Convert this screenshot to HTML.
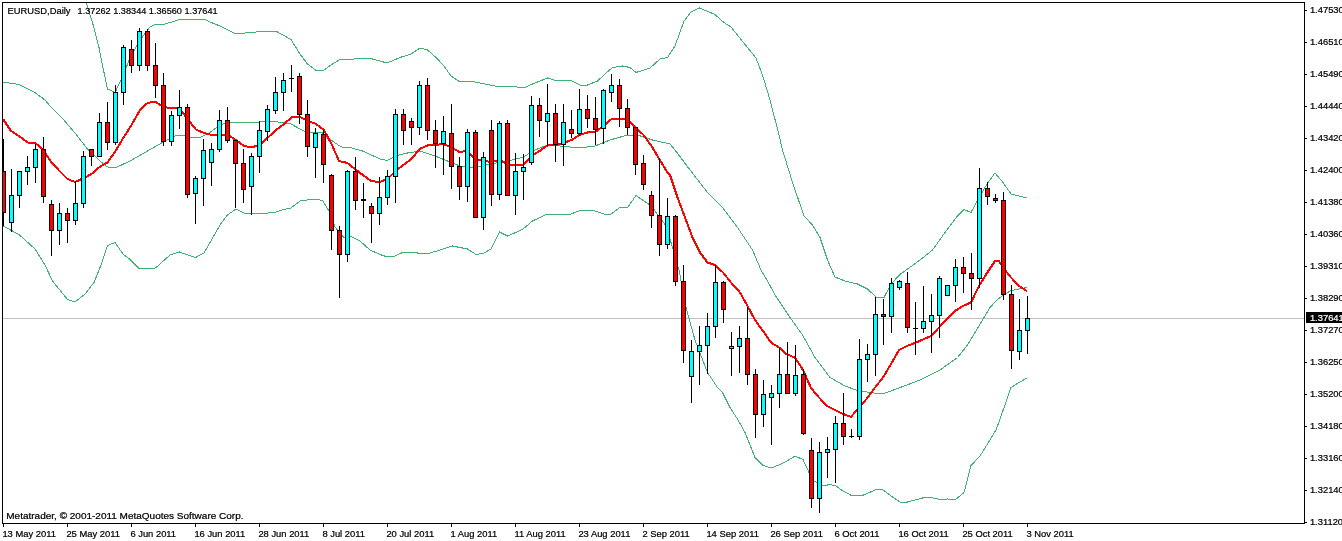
<!DOCTYPE html><html><head><meta charset="utf-8"><title>EURUSD,Daily</title>
<style>html,body{margin:0;padding:0;background:#fff;overflow:hidden}svg{display:block}text{font-family:"Liberation Sans",sans-serif;font-size:9.4px;fill:#000;stroke:#000;stroke-width:.22px}</style>
</head><body>
<svg width="1342" height="541" viewBox="0 0 1342 541">
<rect x="0" y="0" width="1342" height="541" fill="#fff"/>
<defs><clipPath id="c"><rect x="3" y="3" width="1301" height="520"/></clipPath></defs>
<g shape-rendering="crispEdges">
<rect x="3" y="318" width="1301" height="1" fill="#c0c0c0"/>
</g>
<g clip-path="url(#c)" shape-rendering="crispEdges">
<polyline points="84,-6 86,2 92.5,22.5 99,47.5 104,72.5 107.5,89 115,92.5 123.5,75 130,57.5 140,40 150,27 156,24 165,24 180,19.5 205,19.5 212.5,23 220,26 236,34 250,32.5 270,31 277.5,32 291,39.5 300,54 307.5,64 316,70.5 324,70 331,65 340,59.5 347.5,60 360,58 372.5,59 380,61 387,63 400,57.5 411,54 420,48 427.5,50 436,57.5 444,66 451,76 460,82 470,81 485,84 500,87 509,86 524,88 532.5,84 547.5,78 557.5,81 570,80 580,85 587.5,85 597.5,81 605,74 612.5,67.5 622.5,66 630,67.5 636,72.5 650,68 660,59 667.5,57.5 675,46 684,21 691,12 699.5,8 715,14.5 724,22.5 731,27 747.5,47.5 756,58 762.5,75 770,100 779,135 782.5,150 792.5,182.5 804,216 812.5,225 820,237.5 827.5,260 835,277 845,281 857.5,284 867.5,289 876,297 884,297.5 891,284 900,274.5 920,260 932.5,250 945,232.5 957.5,216 964,209.5 971,212.5 979,197.5 987,184 995,173 1003,182.5 1011,194 1019,196 1027,198" fill="none" stroke="#3cb371" stroke-width="1" />
<polyline points="3,82 19,84.5 35,92.5 45,100 50,106 62.5,118.5 75,133 87.5,149 100,161 107.5,167 115,168 130,161 147.5,151 162.5,142.5 175,136 184,135 191,138 200,137.5 210,132.5 220,125 230,122 250,123 260,122 275,121.5 291,124 300,129 307.5,132.5 322.5,133 335,143 342.5,147.5 350,147.5 362.5,151 380,159 387.5,160.5 395,156 407.5,153 420,151 435,156 447.5,161 460,166 475,167.5 490,164 507.5,161 522.5,157.5 535,150 547.5,145 560,146 580,148 595,146 610,140 627.5,135 637.5,135 652.5,140 670,144 675,150 690,170 707.5,192.5 722.5,207.5 737.5,227.5 752.5,250 761,270 770,285.5 775,295 790,317.5 802.5,335 815,357.5 830,377.5 845,386 857.5,390.5 870,392.5 882.5,394 895,389.5 920,380 940,370 957.5,357.5 967.5,345 975,332.5 982.5,320 990,307.5 997.5,299.5 1005,294 1011,290.5 1019,289 1027,287.5" fill="none" stroke="#3cb371" stroke-width="1" />
<polyline points="3,226 19,234.5 35,249 45,265 52.5,281 67.5,299.5 75,302 85,294 94,282.5 101,265 107.5,245.5 115,242.5 123,254 130,259.5 139.5,269 155.5,268 170,255 179.5,252 195.5,257.5 204,253 220,225 227.5,215 236,209 244,213 260,214 276,212 284,209.5 291,208 300,201 315,199 322.5,200.5 329,211 335,227 338,230.5 344,237.5 350,236 360,241 370,250 380,254.5 387.5,257 395,256 402.5,252.5 417.5,253 430,253 440,250 452.5,246 460,247.5 467.5,249 476,254.5 484,253 491,249 499.5,232 507.5,236 522.5,229.5 532.5,221 547.5,214 571,214 580,210.5 595,211 604,214 611,214 620,207.5 627.5,207.5 636,195.5 644,201 651.5,206 659.5,217.5 667.5,227.5 670,239 679,270 686,307.5 695,340 707.5,372.5 717.5,387.5 722.5,392.5 730,407.5 737.5,419 745,432.5 755,457.5 763,465.5 771,468 779,465 787,461 795,456 803,459.5 809,472.5 814,481 822.5,486 830,484.5 836,486 843,491 852.5,496 862.5,495.5 875,490 882.5,489.5 891,496 900,502 907.5,502 922.5,498 931,497.5 940,499.5 947.5,499 955,500 964,492.5 971,465.5 980,456 987.5,444 996,430 1005,405 1011,387.5 1019,382.5 1027,378" fill="none" stroke="#3cb371" stroke-width="1" />
</g>
<g clip-path="url(#c)" shape-rendering="crispEdges">
<polyline points="3,119 11,131 19,136 27.5,142.5 35.5,143 44,151 51.5,162.5 59.5,171 67.5,179 75,182 84,178 91.5,174 99.5,167 107.5,162.5 115.5,151 123.5,137.5 131.5,125 140,110 147.5,103 155,101.5 163,107 171,108 179,108 187.5,119 196,129.5 204,133 212,135 220,135 228,135 236,140 244,146 252,147.5 260,144.5 268,137.5 276,130 284,124 292,117 300,117 308,121 316,124 324,130 332,145 339,161 347.5,163 355.5,169.5 363.5,175.5 371,181 379.5,182 387.5,179 395.5,171 403.5,165 411.5,159 419.5,149 427.5,145.5 435.5,145 443.5,144 451.5,147.5 459.5,152 467.5,151 475.5,160 483.5,160 491.5,162.5 499.5,159.5 507.5,164.5 515.5,165 523.5,165 531.5,156 539.5,151 547.5,145.5 555.5,145 563.5,143 571.5,140 579.5,135 587.5,132.5 595.5,132 603.5,126 611.5,119 619.5,119 627.5,119 635.5,127.5 643.5,135 651.5,146 659.5,159.5 667.5,172.5 670,175 677.5,197.5 685,217.5 692.5,237.5 700,252.5 707.5,262.5 715,265 723,272.5 731,282.5 740,292.5 747,305 755,320 763,331 771,342.5 779,347.5 787,354.5 795,357.5 803,370 811,388 819,397.5 827,406 835,410 843,414 851,417 859,407 867,398.5 875,387.5 883,377.5 891,364 899,350 907,346 915,343 923,339.5 931,336 939,327.5 947,319 955,311 963,306 971,302.5 979,286 987,273 995,261 999,261 1003,267.5 1011,277.5 1019,286 1027,291" fill="none" stroke="#ff0000" stroke-width="2" stroke-linejoin="round"/>
</g>
<g clip-path="url(#c)" shape-rendering="crispEdges">
<rect x="3" y="139" width="1" height="87" fill="#000"/>
<rect x="1" y="171" width="5" height="42" fill="#000"/>
<rect x="2" y="172" width="3" height="40" fill="#ff0000"/>
<rect x="11" y="169" width="1" height="63" fill="#000"/>
<rect x="9" y="195" width="5" height="28" fill="#000"/>
<rect x="10" y="196" width="3" height="26" fill="#00ffff"/>
<rect x="19" y="171" width="1" height="37" fill="#000"/>
<rect x="17" y="171" width="5" height="25" fill="#000"/>
<rect x="18" y="172" width="3" height="23" fill="#00ffff"/>
<rect x="27" y="156" width="1" height="29" fill="#000"/>
<rect x="25" y="167" width="5" height="5" fill="#000"/>
<rect x="26" y="168" width="3" height="3" fill="#00ffff"/>
<rect x="35" y="144" width="1" height="39" fill="#000"/>
<rect x="33" y="149" width="5" height="19" fill="#000"/>
<rect x="34" y="150" width="3" height="17" fill="#00ffff"/>
<rect x="43" y="137" width="1" height="66" fill="#000"/>
<rect x="41" y="149" width="5" height="48" fill="#000"/>
<rect x="42" y="150" width="3" height="46" fill="#ff0000"/>
<rect x="51" y="200" width="1" height="56" fill="#000"/>
<rect x="49" y="204" width="5" height="27" fill="#000"/>
<rect x="50" y="205" width="3" height="25" fill="#ff0000"/>
<rect x="59" y="203" width="1" height="42" fill="#000"/>
<rect x="57" y="213" width="5" height="18" fill="#000"/>
<rect x="58" y="214" width="3" height="16" fill="#00ffff"/>
<rect x="67" y="208" width="1" height="35" fill="#000"/>
<rect x="65" y="213" width="5" height="8" fill="#000"/>
<rect x="66" y="214" width="3" height="6" fill="#ff0000"/>
<rect x="75" y="181" width="1" height="44" fill="#000"/>
<rect x="73" y="203" width="5" height="18" fill="#000"/>
<rect x="74" y="204" width="3" height="16" fill="#00ffff"/>
<rect x="83" y="151" width="1" height="57" fill="#000"/>
<rect x="81" y="156" width="5" height="48" fill="#000"/>
<rect x="82" y="157" width="3" height="46" fill="#00ffff"/>
<rect x="91" y="149" width="1" height="17" fill="#000"/>
<rect x="89" y="149" width="5" height="8" fill="#000"/>
<rect x="90" y="150" width="3" height="6" fill="#ff0000"/>
<rect x="99" y="113" width="1" height="44" fill="#000"/>
<rect x="97" y="122" width="5" height="35" fill="#000"/>
<rect x="98" y="123" width="3" height="33" fill="#00ffff"/>
<rect x="107" y="102" width="1" height="48" fill="#000"/>
<rect x="105" y="122" width="5" height="21" fill="#000"/>
<rect x="106" y="123" width="3" height="19" fill="#ff0000"/>
<rect x="115" y="85" width="1" height="60" fill="#000"/>
<rect x="113" y="92" width="5" height="51" fill="#000"/>
<rect x="114" y="93" width="3" height="49" fill="#00ffff"/>
<rect x="123" y="45" width="1" height="60" fill="#000"/>
<rect x="121" y="47" width="5" height="46" fill="#000"/>
<rect x="122" y="48" width="3" height="44" fill="#00ffff"/>
<rect x="131" y="40" width="1" height="33" fill="#000"/>
<rect x="129" y="49" width="5" height="17" fill="#000"/>
<rect x="130" y="50" width="3" height="15" fill="#ff0000"/>
<rect x="139" y="28" width="1" height="43" fill="#000"/>
<rect x="137" y="31" width="5" height="35" fill="#000"/>
<rect x="138" y="32" width="3" height="33" fill="#00ffff"/>
<rect x="147" y="29" width="1" height="42" fill="#000"/>
<rect x="145" y="31" width="5" height="35" fill="#000"/>
<rect x="146" y="32" width="3" height="33" fill="#ff0000"/>
<rect x="155" y="43" width="1" height="55" fill="#000"/>
<rect x="153" y="65" width="5" height="21" fill="#000"/>
<rect x="154" y="66" width="3" height="19" fill="#ff0000"/>
<rect x="163" y="73" width="1" height="73" fill="#000"/>
<rect x="161" y="85" width="5" height="57" fill="#000"/>
<rect x="162" y="86" width="3" height="55" fill="#ff0000"/>
<rect x="171" y="111" width="1" height="35" fill="#000"/>
<rect x="169" y="115" width="5" height="27" fill="#000"/>
<rect x="170" y="116" width="3" height="25" fill="#00ffff"/>
<rect x="179" y="90" width="1" height="39" fill="#000"/>
<rect x="177" y="107" width="5" height="9" fill="#000"/>
<rect x="178" y="108" width="3" height="7" fill="#00ffff"/>
<rect x="187" y="104" width="1" height="94" fill="#000"/>
<rect x="185" y="107" width="5" height="88" fill="#000"/>
<rect x="186" y="108" width="3" height="86" fill="#ff0000"/>
<rect x="195" y="176" width="1" height="48" fill="#000"/>
<rect x="193" y="178" width="5" height="16" fill="#000"/>
<rect x="194" y="179" width="3" height="14" fill="#00ffff"/>
<rect x="203" y="139" width="1" height="67" fill="#000"/>
<rect x="201" y="150" width="5" height="29" fill="#000"/>
<rect x="202" y="151" width="3" height="27" fill="#00ffff"/>
<rect x="211" y="143" width="1" height="43" fill="#000"/>
<rect x="209" y="149" width="5" height="14" fill="#000"/>
<rect x="210" y="150" width="3" height="12" fill="#00ffff"/>
<rect x="219" y="110" width="1" height="42" fill="#000"/>
<rect x="217" y="120" width="5" height="30" fill="#000"/>
<rect x="218" y="121" width="3" height="28" fill="#00ffff"/>
<rect x="227" y="107" width="1" height="36" fill="#000"/>
<rect x="225" y="120" width="5" height="21" fill="#000"/>
<rect x="226" y="121" width="3" height="19" fill="#ff0000"/>
<rect x="235" y="140" width="1" height="68" fill="#000"/>
<rect x="233" y="140" width="5" height="24" fill="#000"/>
<rect x="234" y="141" width="3" height="22" fill="#ff0000"/>
<rect x="243" y="149" width="1" height="54" fill="#000"/>
<rect x="241" y="163" width="5" height="27" fill="#000"/>
<rect x="242" y="164" width="3" height="25" fill="#ff0000"/>
<rect x="251" y="153" width="1" height="62" fill="#000"/>
<rect x="249" y="156" width="5" height="31" fill="#000"/>
<rect x="250" y="157" width="3" height="29" fill="#00ffff"/>
<rect x="259" y="121" width="1" height="52" fill="#000"/>
<rect x="257" y="130" width="5" height="27" fill="#000"/>
<rect x="258" y="131" width="3" height="25" fill="#00ffff"/>
<rect x="267" y="105" width="1" height="36" fill="#000"/>
<rect x="265" y="109" width="5" height="23" fill="#000"/>
<rect x="266" y="110" width="3" height="21" fill="#00ffff"/>
<rect x="275" y="77" width="1" height="37" fill="#000"/>
<rect x="273" y="92" width="5" height="19" fill="#000"/>
<rect x="274" y="93" width="3" height="17" fill="#00ffff"/>
<rect x="283" y="73" width="1" height="38" fill="#000"/>
<rect x="281" y="80" width="5" height="13" fill="#000"/>
<rect x="282" y="81" width="3" height="11" fill="#00ffff"/>
<rect x="291" y="65" width="1" height="27" fill="#000"/>
<rect x="289" y="78" width="5" height="1" fill="#000"/>
<rect x="299" y="73" width="1" height="51" fill="#000"/>
<rect x="297" y="76" width="5" height="39" fill="#000"/>
<rect x="298" y="77" width="3" height="37" fill="#ff0000"/>
<rect x="307" y="100" width="1" height="57" fill="#000"/>
<rect x="305" y="114" width="5" height="33" fill="#000"/>
<rect x="306" y="115" width="3" height="31" fill="#ff0000"/>
<rect x="315" y="128" width="1" height="50" fill="#000"/>
<rect x="313" y="133" width="5" height="15" fill="#000"/>
<rect x="314" y="134" width="3" height="13" fill="#00ffff"/>
<rect x="323" y="130" width="1" height="53" fill="#000"/>
<rect x="321" y="134" width="5" height="31" fill="#000"/>
<rect x="322" y="135" width="3" height="29" fill="#ff0000"/>
<rect x="331" y="174" width="1" height="76" fill="#000"/>
<rect x="329" y="175" width="5" height="56" fill="#000"/>
<rect x="330" y="176" width="3" height="54" fill="#ff0000"/>
<rect x="339" y="226" width="1" height="72" fill="#000"/>
<rect x="337" y="230" width="5" height="25" fill="#000"/>
<rect x="338" y="231" width="3" height="23" fill="#ff0000"/>
<rect x="347" y="170" width="1" height="92" fill="#000"/>
<rect x="345" y="171" width="5" height="84" fill="#000"/>
<rect x="346" y="172" width="3" height="82" fill="#00ffff"/>
<rect x="355" y="157" width="1" height="53" fill="#000"/>
<rect x="353" y="171" width="5" height="30" fill="#000"/>
<rect x="354" y="172" width="3" height="28" fill="#ff0000"/>
<rect x="363" y="183" width="1" height="35" fill="#000"/>
<rect x="361" y="199" width="5" height="2" fill="#000"/>
<rect x="371" y="203" width="1" height="40" fill="#000"/>
<rect x="369" y="206" width="5" height="8" fill="#000"/>
<rect x="370" y="207" width="3" height="6" fill="#ff0000"/>
<rect x="379" y="177" width="1" height="48" fill="#000"/>
<rect x="377" y="197" width="5" height="17" fill="#000"/>
<rect x="378" y="198" width="3" height="15" fill="#00ffff"/>
<rect x="387" y="170" width="1" height="35" fill="#000"/>
<rect x="385" y="176" width="5" height="22" fill="#000"/>
<rect x="386" y="177" width="3" height="20" fill="#00ffff"/>
<rect x="395" y="109" width="1" height="94" fill="#000"/>
<rect x="393" y="114" width="5" height="63" fill="#000"/>
<rect x="394" y="115" width="3" height="61" fill="#00ffff"/>
<rect x="403" y="109" width="1" height="36" fill="#000"/>
<rect x="401" y="114" width="5" height="17" fill="#000"/>
<rect x="402" y="115" width="3" height="15" fill="#ff0000"/>
<rect x="411" y="118" width="1" height="27" fill="#000"/>
<rect x="409" y="121" width="5" height="7" fill="#000"/>
<rect x="410" y="122" width="3" height="5" fill="#ff0000"/>
<rect x="419" y="81" width="1" height="54" fill="#000"/>
<rect x="417" y="85" width="5" height="43" fill="#000"/>
<rect x="418" y="86" width="3" height="41" fill="#00ffff"/>
<rect x="427" y="78" width="1" height="62" fill="#000"/>
<rect x="425" y="85" width="5" height="46" fill="#000"/>
<rect x="426" y="86" width="3" height="44" fill="#ff0000"/>
<rect x="435" y="120" width="1" height="48" fill="#000"/>
<rect x="433" y="130" width="5" height="14" fill="#000"/>
<rect x="434" y="131" width="3" height="12" fill="#ff0000"/>
<rect x="443" y="116" width="1" height="59" fill="#000"/>
<rect x="441" y="131" width="5" height="13" fill="#000"/>
<rect x="442" y="132" width="3" height="11" fill="#00ffff"/>
<rect x="451" y="104" width="1" height="85" fill="#000"/>
<rect x="449" y="133" width="5" height="34" fill="#000"/>
<rect x="450" y="134" width="3" height="32" fill="#ff0000"/>
<rect x="459" y="157" width="1" height="43" fill="#000"/>
<rect x="457" y="166" width="5" height="21" fill="#000"/>
<rect x="458" y="167" width="3" height="19" fill="#ff0000"/>
<rect x="467" y="129" width="1" height="73" fill="#000"/>
<rect x="465" y="132" width="5" height="55" fill="#000"/>
<rect x="466" y="133" width="3" height="53" fill="#00ffff"/>
<rect x="475" y="130" width="1" height="88" fill="#000"/>
<rect x="473" y="132" width="5" height="86" fill="#000"/>
<rect x="474" y="133" width="3" height="84" fill="#ff0000"/>
<rect x="483" y="152" width="1" height="78" fill="#000"/>
<rect x="481" y="157" width="5" height="61" fill="#000"/>
<rect x="482" y="158" width="3" height="59" fill="#00ffff"/>
<rect x="491" y="120" width="1" height="86" fill="#000"/>
<rect x="489" y="130" width="5" height="65" fill="#000"/>
<rect x="490" y="131" width="3" height="63" fill="#ff0000"/>
<rect x="499" y="121" width="1" height="79" fill="#000"/>
<rect x="497" y="123" width="5" height="72" fill="#000"/>
<rect x="498" y="124" width="3" height="70" fill="#00ffff"/>
<rect x="507" y="120" width="1" height="76" fill="#000"/>
<rect x="505" y="123" width="5" height="73" fill="#000"/>
<rect x="506" y="124" width="3" height="71" fill="#ff0000"/>
<rect x="515" y="153" width="1" height="62" fill="#000"/>
<rect x="513" y="171" width="5" height="25" fill="#000"/>
<rect x="514" y="172" width="3" height="23" fill="#00ffff"/>
<rect x="523" y="154" width="1" height="46" fill="#000"/>
<rect x="521" y="167" width="5" height="5" fill="#000"/>
<rect x="522" y="168" width="3" height="3" fill="#00ffff"/>
<rect x="531" y="96" width="1" height="69" fill="#000"/>
<rect x="529" y="105" width="5" height="58" fill="#000"/>
<rect x="530" y="106" width="3" height="56" fill="#00ffff"/>
<rect x="539" y="98" width="1" height="39" fill="#000"/>
<rect x="537" y="105" width="5" height="16" fill="#000"/>
<rect x="538" y="106" width="3" height="14" fill="#ff0000"/>
<rect x="547" y="84" width="1" height="62" fill="#000"/>
<rect x="545" y="113" width="5" height="9" fill="#000"/>
<rect x="546" y="114" width="3" height="7" fill="#00ffff"/>
<rect x="555" y="104" width="1" height="58" fill="#000"/>
<rect x="553" y="113" width="5" height="32" fill="#000"/>
<rect x="554" y="114" width="3" height="30" fill="#ff0000"/>
<rect x="563" y="104" width="1" height="62" fill="#000"/>
<rect x="561" y="122" width="5" height="23" fill="#000"/>
<rect x="562" y="123" width="3" height="21" fill="#00ffff"/>
<rect x="571" y="110" width="1" height="28" fill="#000"/>
<rect x="569" y="129" width="5" height="5" fill="#000"/>
<rect x="570" y="130" width="3" height="3" fill="#ff0000"/>
<rect x="579" y="89" width="1" height="47" fill="#000"/>
<rect x="577" y="109" width="5" height="25" fill="#000"/>
<rect x="578" y="110" width="3" height="23" fill="#00ffff"/>
<rect x="587" y="95" width="1" height="33" fill="#000"/>
<rect x="585" y="109" width="5" height="10" fill="#000"/>
<rect x="586" y="110" width="3" height="8" fill="#ff0000"/>
<rect x="595" y="97" width="1" height="48" fill="#000"/>
<rect x="593" y="118" width="5" height="12" fill="#000"/>
<rect x="594" y="119" width="3" height="10" fill="#ff0000"/>
<rect x="603" y="89" width="1" height="55" fill="#000"/>
<rect x="601" y="90" width="5" height="39" fill="#000"/>
<rect x="602" y="91" width="3" height="37" fill="#00ffff"/>
<rect x="611" y="74" width="1" height="28" fill="#000"/>
<rect x="609" y="85" width="5" height="8" fill="#000"/>
<rect x="610" y="86" width="3" height="6" fill="#00ffff"/>
<rect x="619" y="79" width="1" height="48" fill="#000"/>
<rect x="617" y="85" width="5" height="24" fill="#000"/>
<rect x="618" y="86" width="3" height="22" fill="#ff0000"/>
<rect x="627" y="99" width="1" height="36" fill="#000"/>
<rect x="625" y="108" width="5" height="20" fill="#000"/>
<rect x="626" y="109" width="3" height="18" fill="#ff0000"/>
<rect x="635" y="127" width="1" height="48" fill="#000"/>
<rect x="633" y="127" width="5" height="38" fill="#000"/>
<rect x="634" y="128" width="3" height="36" fill="#ff0000"/>
<rect x="643" y="155" width="1" height="35" fill="#000"/>
<rect x="641" y="163" width="5" height="22" fill="#000"/>
<rect x="642" y="164" width="3" height="20" fill="#ff0000"/>
<rect x="651" y="191" width="1" height="37" fill="#000"/>
<rect x="649" y="195" width="5" height="21" fill="#000"/>
<rect x="650" y="196" width="3" height="19" fill="#ff0000"/>
<rect x="659" y="158" width="1" height="98" fill="#000"/>
<rect x="657" y="215" width="5" height="30" fill="#000"/>
<rect x="658" y="216" width="3" height="28" fill="#ff0000"/>
<rect x="667" y="198" width="1" height="51" fill="#000"/>
<rect x="665" y="216" width="5" height="29" fill="#000"/>
<rect x="666" y="217" width="3" height="27" fill="#00ffff"/>
<rect x="675" y="215" width="1" height="71" fill="#000"/>
<rect x="673" y="216" width="5" height="66" fill="#000"/>
<rect x="674" y="217" width="3" height="64" fill="#ff0000"/>
<rect x="683" y="265" width="1" height="98" fill="#000"/>
<rect x="681" y="281" width="5" height="70" fill="#000"/>
<rect x="682" y="282" width="3" height="68" fill="#ff0000"/>
<rect x="691" y="340" width="1" height="63" fill="#000"/>
<rect x="689" y="351" width="5" height="26" fill="#000"/>
<rect x="690" y="352" width="3" height="24" fill="#00ffff"/>
<rect x="699" y="326" width="1" height="59" fill="#000"/>
<rect x="697" y="345" width="5" height="7" fill="#000"/>
<rect x="698" y="346" width="3" height="5" fill="#00ffff"/>
<rect x="707" y="313" width="1" height="61" fill="#000"/>
<rect x="705" y="326" width="5" height="20" fill="#000"/>
<rect x="706" y="327" width="3" height="18" fill="#00ffff"/>
<rect x="715" y="265" width="1" height="73" fill="#000"/>
<rect x="713" y="282" width="5" height="45" fill="#000"/>
<rect x="714" y="283" width="3" height="43" fill="#00ffff"/>
<rect x="723" y="281" width="1" height="42" fill="#000"/>
<rect x="721" y="282" width="5" height="28" fill="#000"/>
<rect x="722" y="283" width="3" height="26" fill="#ff0000"/>
<rect x="731" y="332" width="1" height="44" fill="#000"/>
<rect x="729" y="346" width="5" height="3" fill="#000"/>
<rect x="730" y="347" width="3" height="1" fill="#00ffff"/>
<rect x="739" y="326" width="1" height="47" fill="#000"/>
<rect x="737" y="338" width="5" height="9" fill="#000"/>
<rect x="738" y="339" width="3" height="7" fill="#00ffff"/>
<rect x="747" y="307" width="1" height="78" fill="#000"/>
<rect x="745" y="338" width="5" height="37" fill="#000"/>
<rect x="746" y="339" width="3" height="35" fill="#ff0000"/>
<rect x="755" y="369" width="1" height="69" fill="#000"/>
<rect x="753" y="374" width="5" height="41" fill="#000"/>
<rect x="754" y="375" width="3" height="39" fill="#ff0000"/>
<rect x="763" y="380" width="1" height="47" fill="#000"/>
<rect x="761" y="394" width="5" height="21" fill="#000"/>
<rect x="762" y="395" width="3" height="19" fill="#00ffff"/>
<rect x="771" y="385" width="1" height="60" fill="#000"/>
<rect x="769" y="393" width="5" height="5" fill="#000"/>
<rect x="770" y="394" width="3" height="3" fill="#00ffff"/>
<rect x="779" y="348" width="1" height="60" fill="#000"/>
<rect x="777" y="374" width="5" height="20" fill="#000"/>
<rect x="778" y="375" width="3" height="18" fill="#00ffff"/>
<rect x="787" y="342" width="1" height="52" fill="#000"/>
<rect x="785" y="374" width="5" height="20" fill="#000"/>
<rect x="786" y="375" width="3" height="18" fill="#ff0000"/>
<rect x="795" y="345" width="1" height="51" fill="#000"/>
<rect x="793" y="375" width="5" height="19" fill="#000"/>
<rect x="794" y="376" width="3" height="17" fill="#00ffff"/>
<rect x="803" y="369" width="1" height="66" fill="#000"/>
<rect x="801" y="374" width="5" height="60" fill="#000"/>
<rect x="802" y="375" width="3" height="58" fill="#ff0000"/>
<rect x="811" y="438" width="1" height="70" fill="#000"/>
<rect x="809" y="450" width="5" height="49" fill="#000"/>
<rect x="810" y="451" width="3" height="47" fill="#ff0000"/>
<rect x="819" y="442" width="1" height="71" fill="#000"/>
<rect x="817" y="452" width="5" height="47" fill="#000"/>
<rect x="818" y="453" width="3" height="45" fill="#00ffff"/>
<rect x="827" y="437" width="1" height="41" fill="#000"/>
<rect x="825" y="449" width="5" height="4" fill="#000"/>
<rect x="826" y="450" width="3" height="2" fill="#00ffff"/>
<rect x="835" y="416" width="1" height="67" fill="#000"/>
<rect x="833" y="423" width="5" height="27" fill="#000"/>
<rect x="834" y="424" width="3" height="25" fill="#00ffff"/>
<rect x="843" y="393" width="1" height="52" fill="#000"/>
<rect x="841" y="423" width="5" height="14" fill="#000"/>
<rect x="842" y="424" width="3" height="12" fill="#ff0000"/>
<rect x="851" y="429" width="1" height="9" fill="#000"/>
<rect x="849" y="436" width="5" height="1" fill="#000"/>
<rect x="859" y="339" width="1" height="101" fill="#000"/>
<rect x="857" y="359" width="5" height="78" fill="#000"/>
<rect x="858" y="360" width="3" height="76" fill="#00ffff"/>
<rect x="867" y="344" width="1" height="38" fill="#000"/>
<rect x="865" y="354" width="5" height="6" fill="#000"/>
<rect x="866" y="355" width="3" height="4" fill="#00ffff"/>
<rect x="875" y="297" width="1" height="79" fill="#000"/>
<rect x="873" y="314" width="5" height="41" fill="#000"/>
<rect x="874" y="315" width="3" height="39" fill="#00ffff"/>
<rect x="883" y="299" width="1" height="46" fill="#000"/>
<rect x="881" y="314" width="5" height="3" fill="#000"/>
<rect x="882" y="315" width="3" height="1" fill="#ff0000"/>
<rect x="891" y="278" width="1" height="55" fill="#000"/>
<rect x="889" y="283" width="5" height="34" fill="#000"/>
<rect x="890" y="284" width="3" height="32" fill="#00ffff"/>
<rect x="899" y="280" width="1" height="10" fill="#000"/>
<rect x="897" y="281" width="5" height="7" fill="#000"/>
<rect x="898" y="282" width="3" height="5" fill="#00ffff"/>
<rect x="907" y="272" width="1" height="61" fill="#000"/>
<rect x="905" y="283" width="5" height="45" fill="#000"/>
<rect x="906" y="284" width="3" height="43" fill="#ff0000"/>
<rect x="915" y="302" width="1" height="53" fill="#000"/>
<rect x="913" y="328" width="5" height="1" fill="#000"/>
<rect x="923" y="286" width="1" height="47" fill="#000"/>
<rect x="921" y="321" width="5" height="8" fill="#000"/>
<rect x="922" y="322" width="3" height="6" fill="#00ffff"/>
<rect x="931" y="294" width="1" height="59" fill="#000"/>
<rect x="929" y="315" width="5" height="7" fill="#000"/>
<rect x="930" y="316" width="3" height="5" fill="#00ffff"/>
<rect x="939" y="276" width="1" height="62" fill="#000"/>
<rect x="937" y="278" width="5" height="38" fill="#000"/>
<rect x="938" y="279" width="3" height="36" fill="#00ffff"/>
<rect x="947" y="285" width="1" height="11" fill="#000"/>
<rect x="945" y="285" width="5" height="11" fill="#000"/>
<rect x="946" y="286" width="3" height="9" fill="#00ffff"/>
<rect x="955" y="259" width="1" height="43" fill="#000"/>
<rect x="953" y="267" width="5" height="19" fill="#000"/>
<rect x="954" y="268" width="3" height="17" fill="#00ffff"/>
<rect x="963" y="257" width="1" height="36" fill="#000"/>
<rect x="961" y="267" width="5" height="7" fill="#000"/>
<rect x="962" y="268" width="3" height="5" fill="#ff0000"/>
<rect x="971" y="253" width="1" height="57" fill="#000"/>
<rect x="969" y="273" width="5" height="6" fill="#000"/>
<rect x="970" y="274" width="3" height="4" fill="#ff0000"/>
<rect x="979" y="168" width="1" height="120" fill="#000"/>
<rect x="977" y="188" width="5" height="91" fill="#000"/>
<rect x="978" y="189" width="3" height="89" fill="#00ffff"/>
<rect x="987" y="182" width="1" height="23" fill="#000"/>
<rect x="985" y="188" width="5" height="9" fill="#000"/>
<rect x="986" y="189" width="3" height="7" fill="#ff0000"/>
<rect x="995" y="194" width="1" height="9" fill="#000"/>
<rect x="993" y="198" width="5" height="3" fill="#000"/>
<rect x="994" y="199" width="3" height="1" fill="#ff0000"/>
<rect x="1003" y="192" width="1" height="108" fill="#000"/>
<rect x="1001" y="200" width="5" height="95" fill="#000"/>
<rect x="1002" y="201" width="3" height="93" fill="#ff0000"/>
<rect x="1011" y="285" width="1" height="84" fill="#000"/>
<rect x="1009" y="294" width="5" height="57" fill="#000"/>
<rect x="1010" y="295" width="3" height="55" fill="#ff0000"/>
<rect x="1019" y="299" width="1" height="61" fill="#000"/>
<rect x="1017" y="330" width="5" height="22" fill="#000"/>
<rect x="1018" y="331" width="3" height="20" fill="#00ffff"/>
<rect x="1027" y="296" width="1" height="58" fill="#000"/>
<rect x="1025" y="318" width="5" height="13" fill="#000"/>
<rect x="1026" y="319" width="3" height="11" fill="#00ffff"/>
</g>
<g shape-rendering="crispEdges" fill="#000">
<rect x="2" y="2" width="1303" height="1"/>
<rect x="2" y="2" width="1" height="522"/>
<rect x="1304" y="2" width="1" height="522"/>
<rect x="2" y="523" width="1303" height="1"/>
<rect x="1305" y="10" width="2" height="1"/>
<rect x="1305" y="42" width="2" height="1"/>
<rect x="1305" y="74" width="2" height="1"/>
<rect x="1305" y="106" width="2" height="1"/>
<rect x="1305" y="138" width="2" height="1"/>
<rect x="1305" y="170" width="2" height="1"/>
<rect x="1305" y="202" width="2" height="1"/>
<rect x="1305" y="234" width="2" height="1"/>
<rect x="1305" y="266" width="2" height="1"/>
<rect x="1305" y="298" width="2" height="1"/>
<rect x="1305" y="330" width="2" height="1"/>
<rect x="1305" y="362" width="2" height="1"/>
<rect x="1305" y="394" width="2" height="1"/>
<rect x="1305" y="426" width="2" height="1"/>
<rect x="1305" y="458" width="2" height="1"/>
<rect x="1305" y="490" width="2" height="1"/>
<rect x="1305" y="522" width="2" height="1"/>
<rect x="3" y="524" width="1" height="3"/>
<rect x="67" y="524" width="1" height="3"/>
<rect x="131" y="524" width="1" height="3"/>
<rect x="195" y="524" width="1" height="3"/>
<rect x="259" y="524" width="1" height="3"/>
<rect x="323" y="524" width="1" height="3"/>
<rect x="387" y="524" width="1" height="3"/>
<rect x="451" y="524" width="1" height="3"/>
<rect x="515" y="524" width="1" height="3"/>
<rect x="579" y="524" width="1" height="3"/>
<rect x="643" y="524" width="1" height="3"/>
<rect x="707" y="524" width="1" height="3"/>
<rect x="771" y="524" width="1" height="3"/>
<rect x="835" y="524" width="1" height="3"/>
<rect x="899" y="524" width="1" height="3"/>
<rect x="963" y="524" width="1" height="3"/>
<rect x="1027" y="524" width="1" height="3"/>
<rect x="1306" y="312" width="36" height="11"/>
</g>
<text x="1309.9" y="12.8">1.47530</text>
<text x="1309.9" y="44.8">1.46510</text>
<text x="1309.9" y="76.8">1.45490</text>
<text x="1309.9" y="108.8">1.44440</text>
<text x="1309.9" y="140.8">1.43420</text>
<text x="1309.9" y="172.8">1.42400</text>
<text x="1309.9" y="204.8">1.41380</text>
<text x="1309.9" y="236.8">1.40360</text>
<text x="1309.9" y="268.8">1.39310</text>
<text x="1309.9" y="300.8">1.38290</text>
<text x="1309.9" y="332.8">1.37270</text>
<text x="1309.9" y="364.8">1.36250</text>
<text x="1309.9" y="396.8">1.35200</text>
<text x="1309.9" y="428.8">1.34180</text>
<text x="1309.9" y="460.8">1.33160</text>
<text x="1309.9" y="492.8">1.32140</text>
<text x="1309.9" y="524.8">1.31120</text>
<text x="1309.9" y="321" style="fill:#fff;stroke:#fff">1.37641</text>
<text x="2.4" y="537">13 May 2011</text>
<text x="66.4" y="537">25 May 2011</text>
<text x="130.4" y="537">6 Jun 2011</text>
<text x="194.4" y="537">16 Jun 2011</text>
<text x="258.4" y="537">28 Jun 2011</text>
<text x="322.4" y="537">8 Jul 2011</text>
<text x="386.4" y="537">20 Jul 2011</text>
<text x="450.4" y="537">1 Aug 2011</text>
<text x="514.4" y="537">11 Aug 2011</text>
<text x="578.4" y="537">23 Aug 2011</text>
<text x="642.4" y="537">2 Sep 2011</text>
<text x="706.4" y="537">14 Sep 2011</text>
<text x="770.4" y="537">26 Sep 2011</text>
<text x="834.4" y="537">6 Oct 2011</text>
<text x="898.4" y="537">16 Oct 2011</text>
<text x="962.4" y="537">25 Oct 2011</text>
<text x="1026.4" y="537">3 Nov 2011</text>
<text x="7.5" y="13.6">EURUSD,Daily</text>
<text x="77.6" y="13.6" textLength="140" lengthAdjust="spacingAndGlyphs">1.37262 1.38344 1.36560 1.37641</text>
<text x="6.3" y="518.8" textLength="237.2" lengthAdjust="spacingAndGlyphs">Metatrader, © 2001-2011 MetaQuotes Software Corp.</text>
</svg></body></html>
